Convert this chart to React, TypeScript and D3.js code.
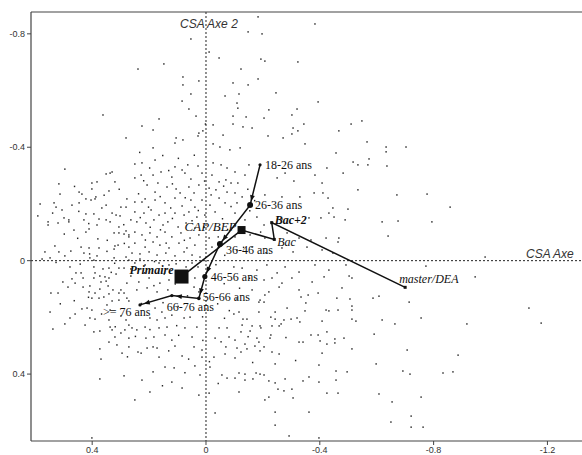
import React from "react";
import * as d3 from "d3";

const W = 582;
const H = 455;

// Axis ticks (the horizontal axis runs from positive on the left to negative on the right)
const xTicks = [0.4, 0, -0.4, -0.8, -1.2];
const yTicks = [-0.8, -0.4, 0, 0.4];

// Age trajectory (supplementary categories)
const ageLabels = ["18-26 ans", "26-36 ans", "36-46 ans", "46-56 ans", "56-66 ans", "66-76 ans", ">= 76 ans"];
const ageX = [-0.19, -0.155, -0.049, 0.004, 0.025, 0.12, 0.232];
const ageY = [-0.338, -0.196, -0.059, 0.056, 0.133, 0.123, 0.156];

// Education trajectory
const eduLabels = ["Primaire", "CAP/BEP", "Bac", "Bac+2", "master/DEA"];
const eduX = [0.086, -0.125, -0.24, -0.231, -0.7];
const eduY = [0.056, -0.108, -0.075, -0.134, 0.094];

// Individuals projected on the first factorial plane
const individuals: [number, number][] = [
  [-0.183,-0.86],[-0.148,-0.807],[-0.197,-0.8],[0.053,-0.782],[-0.011,-0.736],[-0.046,-0.715],[-0.193,-0.711],[-0.207,-0.704],
  [-0.323,-0.701],[0.148,-0.694],[0.239,-0.676],[-0.123,-0.676],[0.081,-0.648],[0.025,-0.634],[-0.183,-0.641],[-0.095,-0.627],
  [0.081,-0.62],[-0.148,-0.62],[0.053,-0.588],[-0.067,-0.581],[-0.116,-0.588],[-0.246,-0.592],[0.084,-0.563],[-0.109,-0.556],
  [0.06,-0.535],[-0.112,-0.538],[0.362,-0.514],[0.165,-0.5],[0.035,-0.51],[-0.095,-0.51],[-0.141,-0.507],[-0.204,-0.503],
  [-0.221,-0.532],[-0.302,-0.514],[-0.32,-0.535],[0.225,-0.475],[0.186,-0.461],[0.002,-0.482],[-0.025,-0.479],[-0.095,-0.482],
  [-0.13,-0.472],[-0.162,-0.468],[-0.306,-0.468],[-0.323,-0.458],[0.281,-0.433],[0.105,-0.433],[0.081,-0.426],[0.025,-0.45],
  [0.011,-0.458],[0.028,-0.44],[-0.06,-0.443],[-0.218,-0.44],[-0.271,-0.433],[-0.302,-0.447],[0.109,-0.415],[-0.025,-0.412],
  [-0.049,-0.401],[-0.12,-0.398],[0.186,-0.398],[-0.084,-0.391],
  [-0.383,-0.835],[-0.394,-0.56],[-0.344,-0.482],[-0.467,-0.458],[-0.51,-0.482],[-0.548,-0.493],[-0.348,-0.412],[-0.457,-0.38],
  [-0.566,-0.419],[-0.633,-0.401],[-0.633,-0.384],[-0.703,-0.401],[-0.517,-0.348],[-0.534,-0.338],[-0.569,-0.338],[-0.573,-0.359],
  [-0.636,-0.334],[-0.482,-0.309],[-0.534,-0.25],[-0.671,-0.232],[-0.777,-0.235],[-0.858,-0.189],[-0.446,-0.186],[-0.499,-0.182],
  [-0.489,-0.144],[-0.45,-0.154],[-0.619,-0.137],[-0.675,-0.14],[-0.794,-0.137],
  [-0.64,-0.087],[-0.467,-0.08],[-0.464,-0.066],[-0.446,-0.027],[-0.981,-0.013],[-0.773,0.019],[-0.946,0.057],[-0.492,0.015],
  [-0.503,0.054],[-0.513,0.061],[-0.478,0.096],[-0.46,0.132],[-0.506,0.135],[-0.464,0.174],[-0.513,0.16],[-0.513,0.174],
  [-0.587,0.132],[-0.608,0.125],[-0.714,0.146],[-1.135,0.167],[-0.513,0.206],[-0.527,0.213],[-0.619,0.209],[-0.664,0.223],
  [-0.756,0.202],[-0.917,0.223],[-1.178,0.22],[-0.591,0.259],[-0.453,0.276],[-0.453,0.29],[-0.485,0.273],[-0.513,0.311],
  [-0.707,0.315],[-0.886,0.333],[-0.457,0.389],[-0.496,0.392],[-0.598,0.364],[-0.692,0.389],[-0.717,0.4],[-0.833,0.396],
  [-0.868,0.392],[-0.457,0.421],[-0.464,0.467],[-0.608,0.47],[-0.654,0.498],[-0.756,0.481],[-0.65,0.569],[-0.721,0.548],
  [-0.721,0.587],[-0.763,0.587],
  [0.496,-0.323],[0.351,-0.306],[0.337,-0.309],[0.33,-0.313],[0.383,-0.278],[0.401,-0.274],[0.401,-0.253],[0.32,-0.278],
  [0.513,-0.235],[0.446,-0.242],[0.436,-0.235],[0.387,-0.225],[0.39,-0.218],[0.422,-0.218],[0.404,-0.214],[0.341,-0.246],
  [0.278,-0.218],[0.583,-0.2],[0.534,-0.204],[0.471,-0.196],[0.446,-0.204],[0.351,-0.196],[0.299,-0.189],[0.281,-0.189],
  [0.527,-0.189],[0.506,-0.179],[0.422,-0.165],[0.394,-0.165],[0.33,-0.168],[0.591,-0.158],[0.499,-0.151],[0.482,-0.144],
  [0.429,-0.144],[0.376,-0.147],[0.351,-0.144],[0.316,-0.161],[0.302,-0.158],[0.264,-0.144],[0.555,-0.137],[0.52,-0.133],
  [0.482,-0.137],[0.337,-0.137],[0.555,-0.126],[0.464,-0.108],[0.411,-0.112],[0.383,-0.126],[0.306,-0.119],[0.323,-0.098],
  [0.306,-0.098],[0.422,-0.101],[0.281,-0.105],[0.271,-0.091],[0.38,-0.077],[0.288,-0.094],[0.271,-0.084],[0.531,-0.052],
  [0.439,-0.048],[0.411,-0.045],[0.376,-0.045],[0.32,-0.052],[0.309,-0.055],[0.323,-0.041],[0.271,-0.048],[0.566,-0.031],
  [0.517,-0.031],[0.475,-0.034],[0.429,-0.027],[0.496,-0.017],[0.383,-0.017],[0.323,-0.01],[0.281,-0.013],[0.576,-0.006],
  [0.548,-0.01],[0.408,-0.01],[0.394,-0.002],[0.271,-0.002],[0.478,0.022],[0.394,0.022],[0.362,0.029],[0.341,0.026],
  [0.306,0.026],[0.288,0.026],[0.264,0.029],[0.457,0.043],[0.439,0.043],[0.39,0.043],[0.373,0.054],[0.355,0.057],
  [0.316,0.047],[0.264,0.054],[0.432,0.061],[0.394,0.061],[0.341,0.061],[0.503,0.075],[0.485,0.093],[0.46,0.079],
  [0.432,0.093],[0.408,0.089],[0.369,0.075],[0.351,0.072],[0.344,0.089],[0.373,0.1],[0.327,0.103],[0.299,0.103],
  [0.306,0.114],[0.545,0.114],[0.52,0.114],[0.411,0.11],[0.39,0.114],[0.341,0.117],[0.288,0.114],[0.278,0.079],
  [0.25,-0.341],[0.225,-0.345],[0.179,-0.355],[0.109,-0.331],[0.084,-0.32],[0.028,-0.334],[-0.025,-0.345],[-0.053,-0.338],
  [-0.074,-0.327],[0.25,-0.292],[0.228,-0.302],[0.186,-0.302],[0.158,-0.313],[0.12,-0.295],[0.074,-0.309],[0.053,-0.288],
  [0.014,-0.309],[-0.021,-0.302],[-0.046,-0.278],[-0.07,-0.285],[-0.088,-0.274],[0.207,-0.267],[0.179,-0.242],[0.169,-0.274],
  [0.137,-0.26],[0.105,-0.253],[0.091,-0.239],[0.06,-0.26],[0.042,-0.239],[0.025,-0.267],[-0.011,-0.256],[-0.035,-0.25],
  [-0.074,-0.242],[0.25,-0.207],[0.225,-0.207],[0.214,-0.218],[0.179,-0.214],[0.144,-0.204],[0.109,-0.221],[0.084,-0.193],
  [0.053,-0.214],[0.039,-0.189],[0.014,-0.214],[-0.014,-0.196],[-0.046,-0.221],[-0.067,-0.204],[0.25,-0.172],[0.218,-0.168],
  [0.193,-0.179],[0.165,-0.161],[0.144,-0.168],[0.109,-0.168],[0.077,-0.161],[0.06,-0.172],[0.032,-0.154],[0.004,-0.161],
  [-0.032,-0.172],[0.243,-0.137],[0.211,-0.133],[0.183,-0.144],[0.151,-0.126],[0.134,-0.137],[0.098,-0.119],[0.07,-0.133],
  [0.039,-0.115],[0.007,-0.119],[0.25,-0.101],[0.225,-0.091],[0.197,-0.098],[0.172,-0.084],[0.144,-0.101],[0.12,-0.084],
  [0.088,-0.098],[0.056,-0.08],[0.025,-0.091],[-0.011,-0.08],[0.25,-0.062],[0.214,-0.048],[0.186,-0.066],[0.162,-0.055],
  [0.13,-0.045],[0.095,-0.062],[0.067,-0.045],[0.039,-0.055],[-0.021,-0.048],[0.26,-0.027],[0.232,-0.024],[0.2,-0.031],
  [0.172,-0.02],[0.141,-0.027],[0.109,-0.017],[0.077,-0.031],[0.049,-0.02],[0.021,-0.013],[0.25,0.008],[0.214,0.015],
  [0.165,0.008],[0.13,0.015],[0.049,0.008],[0.028,0.022],[0.236,0.075],[0.2,0.061],[0.162,0.079],[0.13,0.068],
  [0.039,0.061],[0.243,0.103],[0.207,0.096],[0.172,0.11],[0.134,0.103],[0.042,0.093],[0.025,0.11],
  [-0.102,-0.313],[-0.137,-0.302],[-0.112,-0.274],[-0.151,-0.338],[-0.25,-0.292],[-0.278,-0.309],[-0.309,-0.281],[-0.383,-0.302],
  [-0.408,-0.274],[-0.425,-0.327],[-0.102,-0.239],[-0.127,-0.225],[-0.109,-0.204],[-0.207,-0.232],[-0.267,-0.225],[-0.33,-0.225],
  [-0.38,-0.239],[-0.411,-0.239],[-0.429,-0.221],[-0.102,-0.168],[-0.137,-0.144],[-0.179,-0.154],[-0.204,-0.126],[-0.267,-0.147],
  [-0.362,-0.151],[-0.404,-0.151],[-0.432,-0.168],[-0.102,-0.084],[-0.155,-0.091],[-0.207,-0.08],[-0.285,-0.098],[-0.327,-0.08],
  [-0.369,-0.073],[-0.422,-0.08],[-0.109,-0.038],[-0.162,-0.048],[-0.267,-0.045],[-0.306,-0.031],[-0.355,-0.048],[-0.408,-0.038],
  [-0.098,0.022],[-0.127,0.026],[-0.179,0.033],[-0.214,0.015],[-0.25,0.043],[-0.278,0.022],[-0.327,0.04],[-0.383,0.015],
  [-0.432,0.033],[-0.204,0.068],[-0.232,0.061],[-0.267,0.079],[-0.302,0.061],[-0.373,0.075],[-0.415,0.057],[-0.162,0.103],
  [-0.221,0.11],[-0.257,0.093],[-0.327,0.103],[-0.394,0.114],
  [0.401,0.132],[0.376,0.132],[0.359,0.128],[0.33,0.142],[0.306,0.139],[0.278,0.132],[0.271,0.142],[0.436,0.17],
  [0.418,0.167],[0.401,0.174],[0.348,0.156],[0.337,0.174],[0.548,0.181],[0.46,0.188],[0.408,0.202],[0.39,0.206],
  [0.478,0.202],[0.341,0.209],[0.299,0.195],[0.281,0.209],[0.425,0.227],[0.496,0.223],[0.337,0.234],[0.271,0.227],
  [0.538,0.241],[0.394,0.251],[0.373,0.248],[0.33,0.244],[0.299,0.255],[0.285,0.244],[0.32,0.269],[0.271,0.273],
  [0.341,0.287],[0.313,0.297],[0.271,0.304],[0.373,0.311],[0.295,0.326],[0.369,0.347],[0.288,0.406],[0.373,0.417],
  [0.401,0.625],
  [0.179,0.167],[0.155,0.181],[0.197,0.202],[0.172,0.209],[0.144,0.202],[0.12,0.192],[0.077,0.202],[0.056,0.199],
  [0.26,0.237],[0.243,0.244],[0.214,0.234],[0.165,0.237],[0.137,0.234],[0.074,0.237],[0.032,0.234],[-0.046,0.237],
  [-0.074,0.237],[0.211,0.273],[0.183,0.269],[0.144,0.262],[0.12,0.28],[0.049,0.269],[-0.032,0.273],[-0.081,0.269],
  [0.207,0.308],[0.186,0.304],[0.172,0.308],[0.109,0.301],[0.042,0.304],[0.014,0.315],[-0.07,0.304],[0.239,0.322],
  [0.228,0.326],[0.165,0.34],[0.084,0.336],[0.014,0.34],[-0.028,0.34],[-0.067,0.329],[0.144,0.375],[0.112,0.378],
  [0.039,0.371],[-0.014,0.375],[0.225,0.421],[0.12,0.428],[0.021,0.403],[-0.056,0.403],[-0.074,0.414],[0.197,0.463],
  [0.084,0.449],[0.025,0.474],[-0.011,0.467],[0.25,0.491],[-0.032,0.537],
  [-0.207,0.121],[-0.334,0.128],[-0.359,0.121],[-0.109,0.135],[-0.19,0.139],[-0.186,0.146],[-0.204,0.146],[-0.116,0.181],
  [-0.098,0.188],[-0.243,0.181],[-0.285,0.167],[-0.351,0.149],[-0.348,0.177],[-0.422,0.174],[-0.432,0.177],[-0.13,0.206],
  [-0.144,0.206],[-0.186,0.181],[-0.228,0.199],[-0.243,0.206],[-0.274,0.209],[-0.299,0.206],[-0.32,0.202],[-0.33,0.216],
  [-0.408,0.213],[-0.127,0.227],[-0.162,0.23],[-0.19,0.23],[-0.232,0.23],[-0.257,0.23],[-0.264,0.223],[-0.193,0.237],
  [-0.123,0.251],[-0.155,0.248],[-0.228,0.262],[-0.369,0.262],[-0.394,0.262],[-0.425,0.251],[-0.179,0.273],[-0.225,0.273],
  [-0.102,0.28],[-0.186,0.287],[-0.327,0.287],[-0.341,0.287],[-0.401,0.283],[-0.137,0.294],[-0.172,0.301],[-0.204,0.304],
  [-0.425,0.294],[-0.109,0.308],[-0.144,0.311],[-0.123,0.322],[-0.19,0.318],[-0.232,0.322],[-0.257,0.329],[-0.408,0.326],
  [-0.102,0.343],[-0.243,0.364],[-0.397,0.368],[-0.116,0.396],[-0.137,0.4],[-0.176,0.396],[-0.19,0.4],[-0.204,0.403],
  [-0.102,0.414],[-0.137,0.421],[-0.165,0.417],[-0.221,0.424],[-0.243,0.431],[-0.278,0.417],[-0.362,0.41],[-0.341,0.424],
  [-0.397,0.428],[-0.116,0.463],[-0.253,0.453],[-0.274,0.459],[-0.302,0.453],[-0.425,0.467],[-0.221,0.481],[-0.207,0.491],
  [-0.306,0.484],[-0.243,0.534],[-0.362,0.534],[-0.243,0.58],[-0.292,0.618],[-0.397,0.625],
  [0.462,-0.262],[0.517,-0.271],[0.358,-0.231],[0.305,-0.252],[0.447,-0.174],[0.366,-0.186],[0.539,-0.168],[0.412,-0.131],
  [0.289,-0.127],[0.498,-0.094],[0.347,-0.072],[0.451,-0.079],[0.287,-0.061],[0.409,-0.024],[0.348,-0.033],[0.527,0.006],
  [0.442,0.012],[0.321,0.009],[0.471,0.064],[0.333,0.041],[0.413,0.129],[0.463,0.141],[0.512,0.152],[0.367,0.188],
  [0.233,-0.382],[0.152,-0.371],[0.097,-0.361],[0.041,-0.372],[0.198,-0.327],[0.131,-0.318],[0.064,-0.338],[0.219,-0.282],
  [0.118,-0.271],[0.005,-0.281],[0.237,-0.236],[0.161,-0.226],[0.073,-0.222],[-0.018,-0.232],[0.202,-0.189],[0.124,-0.186],
  [0.027,-0.177],[0.231,-0.152],[0.118,-0.149],[0.049,-0.141],[0.196,-0.118],[0.16,-0.109],[0.076,-0.072],[0.213,-0.073],
  [0.14,-0.062],[0.232,-0.006],[0.181,0.003],[0.105,0.011],[0.07,0.022],[0.216,0.043],[0.147,0.047],[0.183,0.088],
  [0.108,0.082],[0.065,0.124],[0.227,0.151],[0.151,0.148],[0.098,0.161],
  [-0.062,-0.263],[-0.147,-0.252],[-0.088,-0.191],[-0.171,-0.212],[-0.058,-0.148],[-0.154,-0.176],[-0.076,-0.11],[-0.192,-0.101],
  [-0.043,-0.084],[-0.132,-0.047],[-0.066,-0.019],[-0.211,-0.028],[-0.035,0.014],[-0.153,0.062],[-0.064,0.081],[-0.118,0.097],
  [-0.041,0.152],[-0.082,0.176],[-0.065,0.203],
  [0.319,0.233],[0.248,0.267],[0.197,0.243],[0.096,0.263],[0.011,0.281],[-0.053,0.286],[0.276,0.339],[0.131,0.318],
  [0.061,0.347],[-0.012,0.356],[0.186,0.392],[0.074,0.395],[-0.043,0.433],[0.153,0.441],[-0.148,0.268],[-0.281,0.271],
  [-0.164,0.359],[-0.315,0.352],[0.012,0.198],[0.103,0.229],
];

// Drawing styles for the category markers and their labels
const ageRadius = [1.6, 3, 3, 2.6, 1.8, 1.6, 1.6];
const ageLabelOffset: [number, number][] = [[5, 4], [5, 4], [6, 10], [6, 4], [4, 3], [-5, 15], [-37, 11]];
const eduSize = [14, 8, 3, 3, 3];
const eduLabelStyle = [
  { anchor: "end", dx: -8, dy: -3, weight: "bold", size: 12 },
  { anchor: "end", dx: -5, dy: 1, weight: "normal", size: 13 },
  { anchor: "start", dx: 3, dy: 7, weight: "normal", size: 12 },
  { anchor: "start", dx: 3, dy: 1, weight: "bold", size: 12 },
  { anchor: "start", dx: -6, dy: -4, weight: "normal", size: 12 },
];

const fmt = (v: number) => (v === 0 ? "0" : String(v));

export default function App() {
  const left = 31, right = 581, top = 12, bottom = 441;
  const x = d3.scaleLinear().domain([0.615, -1.318]).range([left, right]);
  const y = d3.scaleLinear().domain([-0.877, 0.636]).range([top, bottom]);

  const line = d3.line<[number, number]>().x((d) => x(d[0])).y((d) => y(d[1]));
  const agePts: [number, number][] = ageX.map((v, i) => [v, ageY[i]]);
  const eduPts: [number, number][] = eduX.map((v, i) => [v, eduY[i]]);

  // arrowheads pointing at each age category, just before it
  const arrows = agePts.slice(1).map((p, i) => {
    const a = agePts[i];
    const x0 = x(a[0]), y0 = y(a[1]), x1 = x(p[0]), y1 = y(p[1]);
    const len = Math.hypot(x1 - x0, y1 - y0);
    const ux = (x1 - x0) / len, uy = (y1 - y0) / len;
    const tx = x1 - ux * 4, ty = y1 - uy * 4;
    const bx = tx - ux * 6, by = ty - uy * 6;
    const nx = -uy * 2.4, ny = ux * 2.4;
    return `M${tx},${ty}L${bx + nx},${by + ny}L${bx - nx},${by - ny}Z`;
  });

  const serif = "'Liberation Serif', 'Times New Roman', serif";
  const sans = "'Liberation Sans', Arial, sans-serif";

  return (
    <svg width={W} height={H} style={{ position: "absolute", left: 0, top: 0, background: "#fff" }}>
      {/* individuals */}
      <g fill="#262626">
        {individuals.map((d, i) => (
          <rect key={i} x={x(d[0]) - 0.7} y={y(d[1]) - 0.7} width={1.4} height={1.5} />
        ))}
      </g>

      {/* origin axes */}
      <line x1={x(0)} x2={x(0)} y1={top} y2={bottom} stroke="#222" strokeWidth={1} strokeDasharray="2,2" />
      <line x1={left} x2={W} y1={y(0)} y2={y(0)} stroke="#222" strokeWidth={1} strokeDasharray="2,2" />

      {/* frame */}
      <g stroke="#444" strokeWidth={1.2} fill="none">
        <line x1={left} x2={left} y1={top} y2={bottom} />
        <line x1={left} x2={W} y1={top} y2={top} />
        <line x1={left} x2={W} y1={bottom} y2={bottom} />
      </g>

      {/* ticks */}
      <g fontFamily={sans} fontSize={9} fill="#333">
        {yTicks.map((t) => (
          <g key={"y" + t}>
            <line x1={left - 4} x2={left} y1={y(t)} y2={y(t)} stroke="#444" />
            <text x={left - 6} y={y(t) + 3} textAnchor="end">{fmt(t)}</text>
          </g>
        ))}
        {xTicks.map((t) => (
          <g key={"x" + t}>
            <line x1={x(t)} x2={x(t)} y1={bottom} y2={bottom + 4} stroke="#444" />
            <text x={x(t)} y={bottom + 12} textAnchor="middle">{fmt(t)}</text>
          </g>
        ))}
      </g>

      {/* axis titles */}
      <g fontFamily={sans} fontSize={12} fontStyle="italic" fill="#333">
        <text x={180} y={28}>CSA Axe 2</text>
        <text x={526} y={258}>CSA Axe</text>
      </g>

      {/* education trajectory */}
      <path d={line(eduPts) ?? ""} fill="none" stroke="#111" strokeWidth={1.5} />
      {eduPts.map((p, i) => (
        <rect key={"e" + i} x={x(p[0]) - eduSize[i] / 2} y={y(p[1]) - eduSize[i] / 2}
          width={eduSize[i]} height={eduSize[i]} fill="#111" />
      ))}

      {/* age trajectory */}
      <path d={line(agePts) ?? ""} fill="none" stroke="#111" strokeWidth={1.5} />
      {arrows.map((d, i) => <path key={"a" + i} d={d} fill="#111" />)}
      {agePts.map((p, i) => (
        <circle key={"c" + i} cx={x(p[0])} cy={y(p[1])} r={ageRadius[i]} fill="#111" />
      ))}

      {/* labels */}
      <g fontFamily={serif} fontSize={12} fill="#111">
        {ageLabels.map((l, i) => (
          <text key={l} x={x(ageX[i]) + ageLabelOffset[i][0]} y={y(ageY[i]) + ageLabelOffset[i][1]}>{l}</text>
        ))}
        {eduLabels.map((l, i) => {
          const s = eduLabelStyle[i];
          return (
            <text key={l} x={x(eduX[i]) + s.dx} y={y(eduY[i]) + s.dy} textAnchor={s.anchor}
              fontStyle="italic" fontWeight={s.weight} fontSize={s.size}>{l}</text>
          );
        })}
      </g>
    </svg>
  );
}
